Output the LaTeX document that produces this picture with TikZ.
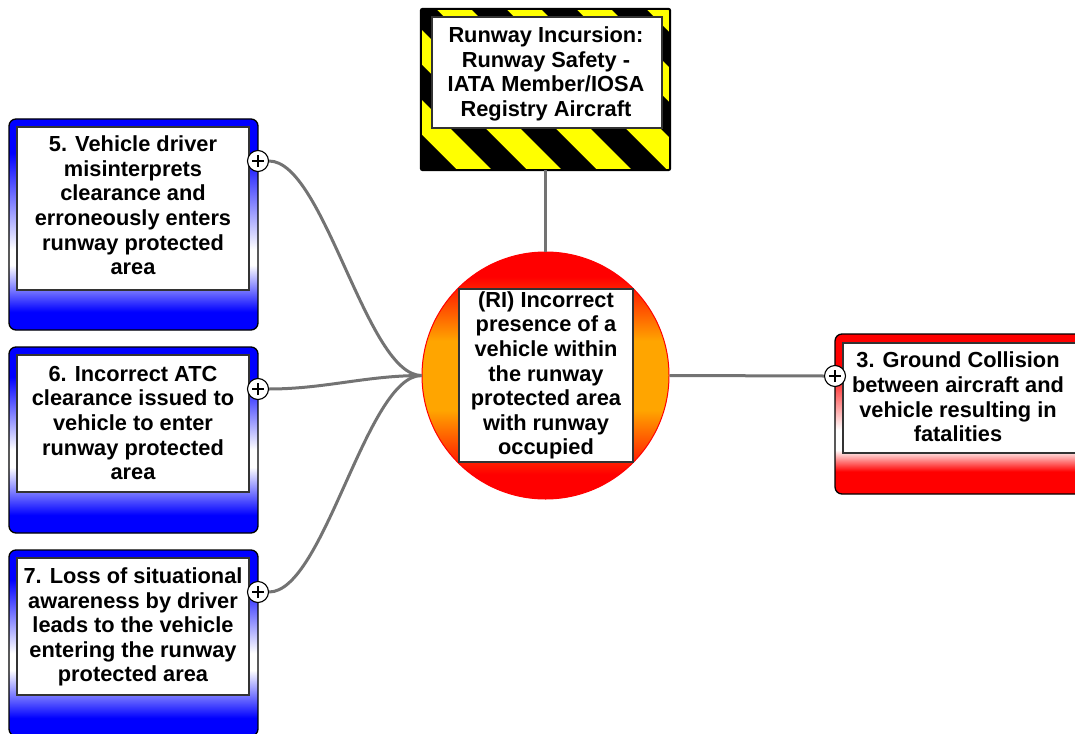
\documentclass[tikz,border=0pt]{standalone}
\usepackage{fontspec}
\setmainfont{Liberation Sans}

% vertical fades: 25bp..75bp of each shading spans the filled shape
\pgfdeclareverticalshading{bluefadetall}{100bp}{color(0bp)=(blue); color(29.3bp)=(blue); color(40.4bp)=(white); color(44bp)=(white); color(67bp)=(blue); color(100bp)=(blue)}
\pgfdeclareverticalshading{bluefade}{100bp}{color(0bp)=(blue); color(29.8bp)=(blue); color(42.7bp)=(white); color(47.3bp)=(white); color(67bp)=(blue); color(100bp)=(blue)}
\pgfdeclareverticalshading{redfade}{100bp}{color(0bp)=(red); color(32bp)=(red); color(38.75bp)=(white); color(45bp)=(white); color(63.75bp)=(red); color(100bp)=(red)}
\definecolor{ballorange}{RGB}{255,165,0}
\pgfdeclareverticalshading{ball}{100bp}{color(0bp)=(red); color(30bp)=(red); color(43bp)=(ballorange); color(57bp)=(ballorange); color(70bp)=(red); color(100bp)=(red)}
\definecolor{linkgray}{RGB}{115,115,115}
\definecolor{hazardyellow}{RGB}{255,255,0}

\begin{document}
\begin{tikzpicture}[x=1pt,y=-1pt,
  outerbox/.style={draw=black, line width=1.3pt, rounded corners=7pt, minimum width=249pt, inner sep=0pt},
  bluebox/.style={outerbox, shade, shading=bluefade, minimum height=#1},
  redbox/.style={outerbox, shade, shading=redfade, minimum width=260pt, minimum height=#1},
  innerbox/.style={draw=black!80, line width=1.2pt, fill=white, inner sep=0pt, minimum width=#1},
  txt/.style={font=\bfseries\fontsize{21.8}{24.6}\selectfont, align=center, inner sep=0pt},
  link/.style={draw=linkgray, line width=3pt},
  plus/.style={circle, draw=black, line width=1.1pt, fill=white, minimum size=21pt, inner sep=0pt,
    path picture={
      \draw[line width=1.1pt] ([xshift=-6pt]path picture bounding box.center) -- ([xshift=6pt]path picture bounding box.center);
      \draw[line width=1.1pt] ([yshift=-6pt]path picture bounding box.center) -- ([yshift=6pt]path picture bounding box.center);
    }},
]
\clip (0,0) rectangle (1075,733);

% hazard-striped title sign
\node[fill=hazardyellow, minimum width=249pt, minimum height=161pt, inner sep=0pt] (sign) at (545.5,89.5) {};
\begin{scope}
  \clip (sign.north west) rectangle (sign.south east);
  \foreach \k in {-2,...,5}{
    \fill[black] ({331+70*\k},9) -- ({366+70*\k},9) -- ({527+70*\k},170) -- ({492+70*\k},170) -- cycle;
  }
\end{scope}
\draw[black, line width=2pt, rounded corners=2pt] (sign.north west) rectangle (sign.south east);
\node[innerbox=230pt, minimum height=111pt] (signin) at (547,72.5) {};
\node[txt] (signtxt) at (546,74) {Runway Incursion:\\Runway Safety -\\IATA Member/IOSA\\Registry Aircraft};

% central event
\node[circle, draw=red, line width=1pt, shade, shading=ball, minimum size=247pt, inner sep=0pt] (event) at (545.5,375.5) {};
\node[innerbox=174pt, minimum height=173pt] (eventin) at (546,375.5) {};
\node[txt] (eventtxt) at (546,375.5) {(RI) Incorrect\\presence of a\\vehicle within\\the runway\\protected area\\with runway\\occupied};

% threats on the left
\node[bluebox=211pt, shading=bluefadetall] (t5) at (133.5,224.5) {};
\node[innerbox=232pt, minimum height=163pt] (t5in) at (133,208.5) {};
\node[txt] (t5txt) at (133,205.5) {5. Vehicle driver\\misinterprets\\clearance and\\erroneously enters\\runway protected\\area};

\node[bluebox=186pt] (t6) at (133.5,440) {};
\node[innerbox=232pt, minimum height=137pt] (t6in) at (133,423.5) {};
\node[txt] (t6txt) at (133,423) {6. Incorrect ATC\\clearance issued to\\vehicle to enter\\runway protected\\area};

\node[bluebox=186pt] (t7) at (133.5,643) {};
\node[innerbox=232pt, minimum height=137pt] (t7in) at (133,626.5) {};
\node[txt] (t7txt) at (133,627) {7. Loss of situational\\awareness by driver\\leads to the vehicle\\entering the runway\\protected area};

% consequence on the right
\node[redbox=160pt] (c3) at (965,414) {};
\node[innerbox=244pt, minimum height=110pt] (c3in) at (965,398) {};
\node[txt] (c3txt) at (958,397) {3. Ground Collision\\between aircraft and\\vehicle resulting in\\fatalities};

% expand markers
\node[plus] (p5) at (258,161) {};
\node[plus] (p6) at (258,389) {};
\node[plus] (p7) at (258,592) {};
\node[plus] (p3) at (835,376) {};

% connectors
\draw[link] (sign.south) -- (event.north);
\draw[link] (event.east) -- (p3.west);
\draw[link] (p5.east) .. controls ++(55,0) and ++(-55,0) .. (event.west);
\draw[link] (p6.east) .. controls ++(55,0) and ++(-55,0) .. (event.west);
\draw[link] (p7.east) .. controls ++(55,0) and ++(-55,0) .. (event.west);
\end{tikzpicture}
\end{document}
